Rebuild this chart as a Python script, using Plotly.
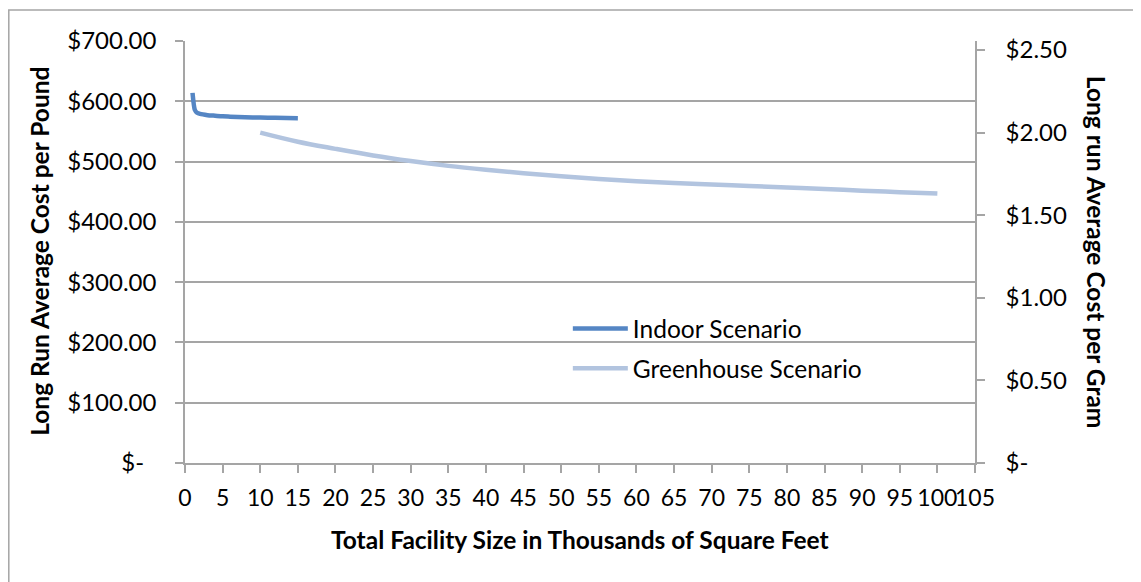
#!/usr/bin/env python
# -*- coding: utf-8 -*-

import plotly.graph_objects as go

# Indoor scenario, cost per pound (left axis)
indoor_size = [1, 1.3, 1.6, 2, 3, 4, 5, 6, 8, 10, 12, 15]
indoor_cost = [614, 586, 581, 579, 577, 576, 575, 574.5, 573.5, 573, 572.5, 572]

# Greenhouse scenario, cost per gram (right axis)
greenhouse_size = [10, 15, 20, 25, 30, 35, 40, 45, 50, 55, 60, 65, 70, 75, 80, 85, 90, 95, 100]
greenhouse_cost = [2.000, 1.945, 1.902, 1.862, 1.828, 1.799, 1.775, 1.754, 1.736, 1.720,
                   1.706, 1.695, 1.686, 1.677, 1.668, 1.659, 1.649, 1.640, 1.631]

pound_ticks = [0, 100, 200, 300, 400, 500, 600, 700]
pound_labels = ['$-\u00a0\u00a0', '$100.00', '$200.00', '$300.00', '$400.00', '$500.00', '$600.00', '$700.00']
gram_ticks = [0, 0.5, 1.0, 1.5, 2.0, 2.5]
gram_labels = ['$-', '$0.50', '$1.00', '$1.50', '$2.00', '$2.50']

FONT = 'Lato, Carlito, Calibri, sans-serif'
GRID = '#A5A5A5'

# page body adds an 8px offset, so margins are trimmed by that much
PX0, PY0 = 185, 463.3   # plot origin on screen
PW, PH = 790, 422.3


def px(x):
    return (x - PX0) / PW


def py(y):
    return (PY0 - y) / PH


fig = go.Figure()

fig.add_trace(go.Scatter(
    x=indoor_size, y=indoor_cost, mode='lines', name='Indoor Scenario',
    line=dict(color='#5586C4', width=4.5, shape='spline', smoothing=0.6), legendgroup='a'
))
fig.add_trace(go.Scatter(
    x=greenhouse_size, y=greenhouse_cost, mode='lines', name='Greenhouse Scenario',
    line=dict(color='#B2C4DF', width=4.5, shape='spline', smoothing=1), yaxis='y2', legendgroup='b'
))

fig.update_layout(
    width=1141, height=582,
    margin=dict(l=177, r=174, t=33, b=127),
    paper_bgcolor='white', plot_bgcolor='white',
    font=dict(family=FONT, size=23, color='black'),
    xaxis=dict(
        range=[0, 105], dtick=5, tick0=0, tickangle=0,
        showgrid=False, zeroline=False,
        showline=True, linecolor=GRID, linewidth=1.5,
        ticks='outside', ticklen=8, tickcolor=GRID, tickwidth=1.5,
        ticklabelstandoff=6, tickfont=dict(size=23),
    ),
    yaxis=dict(
        range=[0, 700], tickvals=pound_ticks, ticktext=pound_labels,
        showgrid=True, gridcolor=GRID, gridwidth=1.5, zeroline=False,
        showline=True, linecolor=GRID, linewidth=1.5,
        ticks='outside', ticklen=8, tickcolor=GRID, tickwidth=1.5,
        ticklabelstandoff=14, tickfont=dict(size=24),
    ),
    yaxis2=dict(
        range=[0, 2.555], tickvals=gram_ticks, ticktext=gram_labels,
        overlaying='y', side='right', showgrid=False, zeroline=False,
        showline=True, linecolor=GRID, linewidth=1.5,
        ticks='outside', ticklen=8, tickcolor=GRID, tickwidth=1.5,
        ticklabelstandoff=16, tickfont=dict(size=24),
    ),
    legend=dict(
        x=0.4846, y=0.372, xanchor='left', yanchor='top',
        bgcolor='rgba(0,0,0,0)', font=dict(size=24.5),
        tracegroupgap=5, itemwidth=55,
    ),
    showlegend=True,
)

# legend box in Excel hides the gridline behind it
fig.add_shape(type='rect', xref='paper', yref='paper', layer='between',
              x0=px(483), x1=px(958), y0=py(392), y1=py(310),
              fillcolor='white', line=dict(width=0))

# outer chart border
fig.add_shape(type='rect', xref='paper', yref='paper',
              x0=px(8.8), x1=px(1160), y0=py(600), y1=py(10),
              fillcolor='rgba(0,0,0,0)', line=dict(color=GRID, width=1.5))

title_font = dict(size=24.5)
fig.add_annotation(text='<b>Long Run Average Cost per Pound</b>', textangle=-90,
                   xref='paper', yref='paper', x=px(40), y=py(252),
                   xanchor='center', yanchor='middle', showarrow=False, font=title_font)
fig.add_annotation(text='<b>Long run Average Cost per Gram</b>', textangle=90,
                   xref='paper', yref='paper', x=px(1096), y=py(252),
                   xanchor='center', yanchor='middle', showarrow=False, font=title_font)
fig.add_annotation(text='<b>Total Facility Size in Thousands of Square Feet</b>',
                   xref='paper', yref='paper', x=px(580), y=py(540),
                   xanchor='center', yanchor='middle', showarrow=False, font=title_font)

fig.write_html("out.html")
